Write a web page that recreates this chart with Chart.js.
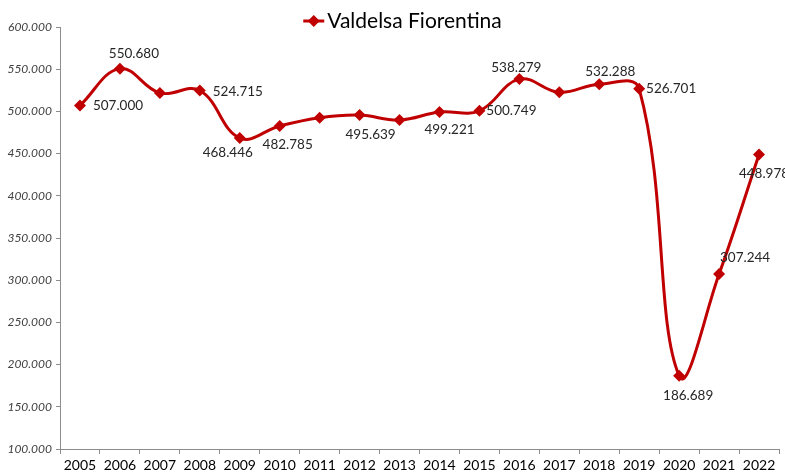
<!DOCTYPE html>
<html>
<head>
<meta charset="utf-8">
<script src="https://cdn.jsdelivr.net/npm/chart.js@4"></script>
<style>
  html, body { margin: 0; padding: 0; background: #fff; }
  #wrap { width: 785px; height: 475px; }
</style>
</head>
<body>
<div id="wrap"><canvas id="myChart" width="785" height="475"></canvas></div>
<script>
var years = ["2005", "2006", "2007", "2008", "2009", "2010", "2011", "2012", "2013",
    "2014", "2015", "2016", "2017", "2018", "2019", "2020", "2021", "2022"];
var presenze = [507000, 550680, 521800, 524715, 468446, 482785, 492600, 495639, 489800,
    499221, 500749, 538279, 522600, 532288, 526701, 186689, 307244, 448978];
var showLabel = [true, true, false, true, true, true, false, true, false,
    true, true, true, false, true, true, true, true, true];
var seriesName = "Valdelsa Fiorentina";

// where each value label sits relative to its point (dx, dy from centre)
var labelOffset = [[38, 0], [14, -15], [0, 0], [38, 1], [-12, 15], [8, 19], [0, 0], [11, 20], [0, 0],
    [10, 18], [32, 0], [-3, -11], [0, 0], [11, -13], [32, 0], [9, 20], [26, -16], [5, 19]];

var red = '#C00000';

function fmtThousands(v) {
    var s = String(Math.round(v));
    return s.replace(/\B(?=(\d{3})+(?!\d))/g, '.');
}

var valueLabels = {
    id: 'valueLabels',
    afterDatasetsDraw: function (chart) {
        var ctx = chart.ctx;
        var meta = chart.getDatasetMeta(0);
        ctx.save();
        ctx.font = '13.5px Lato';
        ctx.fillStyle = '#262626';
        ctx.textAlign = 'center';
        ctx.textBaseline = 'middle';
        meta.data.forEach(function (pt, i) {
            if (!showLabel[i]) return;
            var o = labelOffset[i];
            ctx.fillText(fmtThousands(presenze[i]), pt.x + o[0], pt.y + o[1]);
        });
        ctx.restore();
    }
};

var topLegend = {
    id: 'topLegend',
    afterDraw: function (chart) {
        var ctx = chart.ctx;
        ctx.save();
        ctx.font = '21px Lato';
        var tw = ctx.measureText(seriesName).width;
        var total = 24 + tw;
        var x0 = chart.width / 2 + 10 - total / 2;
        var y = 21;
        ctx.strokeStyle = red;
        ctx.lineWidth = 3;
        ctx.beginPath();
        ctx.moveTo(x0, y);
        ctx.lineTo(x0 + 21, y);
        ctx.stroke();
        ctx.fillStyle = red;
        ctx.beginPath();
        ctx.moveTo(x0 + 10.5, y - 6);
        ctx.lineTo(x0 + 16.5, y);
        ctx.lineTo(x0 + 10.5, y + 6);
        ctx.lineTo(x0 + 4.5, y);
        ctx.closePath();
        ctx.fill();
        ctx.fillStyle = '#000';
        ctx.textBaseline = 'middle';
        ctx.fillText(seriesName, x0 + 24, y);
        ctx.restore();
    }
};

var ctx = document.getElementById("myChart");
var chart = new Chart(ctx, {
    type: 'line',
    data: {
        labels: years,
        datasets: [{
            label: seriesName,
            data: presenze,
            borderColor: red,
            backgroundColor: red,
            borderWidth: 3,
            tension: 0.4,
            pointStyle: 'rectRot',
            pointRadius: 6,
            pointHoverRadius: 6,
            pointBackgroundColor: red,
            pointBorderColor: red,
            pointBorderWidth: 0,
            fill: false
        }]
    },
    options: {
        responsive: false,
        animation: false,
        layout: { padding: { top: 27, right: 5, left: 0, bottom: 0 } },
        plugins: {
            legend: { display: false },
            tooltip: { enabled: false }
        },
        scales: {
            x: {
                offset: true,
                grid: {
                    offset: true,
                    drawOnChartArea: false,
                    drawTicks: true,
                    tickLength: 5,
                    color: '#8c8c8c'
                },
                border: { color: '#8c8c8c', width: 1 },
                ticks: {
                    color: '#000',
                    font: { family: 'Lato', size: 14 },
                    padding: 3,
                    maxRotation: 0,
                    autoSkip: false
                },
                afterFit: function (s) { s.height = 26; }
            },
            y: {
                min: 100000,
                max: 600000,
                grid: {
                    drawOnChartArea: false,
                    drawTicks: true,
                    tickLength: 4,
                    color: '#8c8c8c'
                },
                border: { color: '#8c8c8c', width: 1 },
                ticks: {
                    stepSize: 50000,
                    color: '#404040',
                    padding: 4,
                    font: { family: 'Lato', size: 12, style: 'italic' },
                    callback: function (v) { return fmtThousands(v); }
                },
                afterFit: function (s) { s.width = 60; }
            }
        }
    },
    plugins: [valueLabels, topLegend]
});
</script>
</body>
</html>
